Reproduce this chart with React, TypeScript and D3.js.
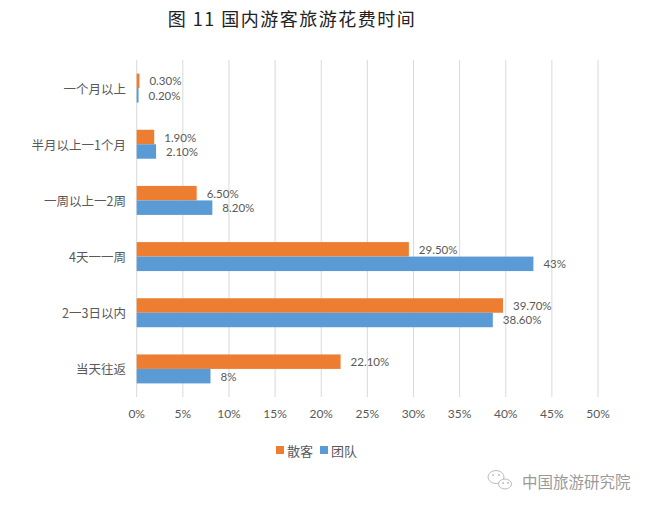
import { useEffect, useRef } from 'react';
import * as d3 from 'd3';

const categories = ['一个月以上', '半月以上一1个月', '一周以上一2周', '4天一一周', '2一3日以内', '当天往返'];
const seriesNames = ['散客', '团队'];
const sankeValues = [0.3, 1.9, 6.5, 29.5, 39.7, 22.1];
const tuanduiValues = [0.2, 2.1, 8.2, 43, 38.6, 8];
const sankeLabels = ['0.30%', '1.90%', '6.50%', '29.50%', '39.70%', '22.10%'];
const tuanduiLabels = ['0.20%', '2.10%', '8.20%', '43%', '38.60%', '8%'];
const xTicks = [0, 5, 10, 15, 20, 25, 30, 35, 40, 45, 50];

const colors = ['#ED7D31', '#5B9BD5'];
const textColor = '#595959';
const numFont = "Lato, 'Noto Sans CJK SC', sans-serif";
const cjkFont = "'Noto Sans CJK SC', sans-serif";

export default function App() {
  const svgRef = useRef<SVGSVGElement>(null);

  useEffect(() => {
    if (!svgRef.current) return;
    const svg = d3.select(svgRef.current);
    svg.selectAll('*').remove();

    const width = 650;
    const height = 509;

    svg.append('rect').attr('width', width).attr('height', height).attr('fill', '#fff');

    // Title
    svg.append('text')
      .attr('x', 292)
      .attr('y', 18)
      .attr('text-anchor', 'middle')
      .attr('dominant-baseline', 'central')
      .style('font-family', cjkFont)
      .style('font-size', '18px')
      .style('letter-spacing', '1.5px')
      .attr('fill', '#222')
      .text('图 11  国内游客旅游花费时间');

    const x = d3.scaleLinear().domain([0, 50]).range([136.7, 598]);
    const y = d3.scaleBand<string>()
      .domain(categories)
      .range([60, 397])
      .paddingInner(0.484)
      .paddingOuter(0.242);
    const sub = d3.scaleBand<string>()
      .domain(seriesNames)
      .range([0, y.bandwidth()]);

    const [y0, y1] = y.range();

    // grid lines
    svg.append('g')
      .selectAll('line')
      .data(xTicks)
      .join('line')
      .attr('x1', d => x(d))
      .attr('x2', d => x(d))
      .attr('y1', y0)
      .attr('y2', y1)
      .attr('stroke', '#d9d9d9')
      .attr('stroke-width', 1);

    // tick labels
    svg.append('g')
      .selectAll('text')
      .data(xTicks)
      .join('text')
      .attr('x', d => x(d))
      .attr('y', 413)
      .attr('text-anchor', 'middle')
      .attr('dominant-baseline', 'central')
      .style('font-family', numFont)
      .style('font-size', '12px')
      .attr('fill', textColor)
      .text(d => `${d}%`);

    // category labels
    svg.append('g')
      .selectAll('text')
      .data(categories)
      .join('text')
      .attr('x', 126)
      .attr('y', d => (y(d) as number) + y.bandwidth() / 2)
      .attr('text-anchor', 'end')
      .attr('dominant-baseline', 'central')
      .style('font-family', cjkFont)
      .style('font-size', '12.5px')
      .attr('fill', textColor)
      .text(d => d);

    const series = [
      { name: seriesNames[0], values: sankeValues, labels: sankeLabels, color: colors[0] },
      { name: seriesNames[1], values: tuanduiValues, labels: tuanduiLabels, color: colors[1] },
    ];

    series.forEach(s => {
      const g = svg.append('g');
      g.selectAll('rect')
        .data(s.values)
        .join('rect')
        .attr('x', x(0))
        .attr('y', (_, i) => (y(categories[i]) as number) + (sub(s.name) as number))
        .attr('width', d => x(d) - x(0))
        .attr('height', sub.bandwidth())
        .attr('fill', s.color);

      g.selectAll('text')
        .data(s.values)
        .join('text')
        .attr('x', d => x(d) + 10)
        .attr('y', (_, i) => (y(categories[i]) as number) + (sub(s.name) as number) + sub.bandwidth() / 2)
        .attr('dominant-baseline', 'central')
        .style('font-family', numFont)
        .style('font-size', '11.5px')
        .attr('fill', textColor)
        .text((_, i) => s.labels[i]);
    });

    // legend
    const legend = svg.append('g');
    const legendItems = [
      { name: seriesNames[0], color: colors[0], x: 276 },
      { name: seriesNames[1], color: colors[1], x: 320 },
    ];
    legendItems.forEach(item => {
      legend.append('rect')
        .attr('x', item.x)
        .attr('y', 446)
        .attr('width', 8)
        .attr('height', 8)
        .attr('fill', item.color);
      legend.append('text')
        .attr('x', item.x + 11)
        .attr('y', 450)
        .attr('dominant-baseline', 'central')
        .style('font-family', cjkFont)
        .style('font-size', '13px')
        .attr('fill', textColor)
        .text(item.name);
    });

    // watermark
    const wm = svg.append('g').attr('fill', '#fff').attr('stroke', '#bbb').attr('stroke-width', 1);
    wm.append('ellipse').attr('cx', 496).attr('cy', 477).attr('rx', 8).attr('ry', 6.5);
    wm.append('ellipse').attr('cx', 505).attr('cy', 484).attr('rx', 6.5).attr('ry', 5);
    [[493, 475], [499, 475], [503, 483], [508, 483]].forEach(([cx, cy]) => {
      svg.append('circle').attr('cx', cx).attr('cy', cy).attr('r', 0.9).attr('fill', '#bbb');
    });
    svg.append('text')
      .attr('x', 522)
      .attr('y', 481)
      .attr('dominant-baseline', 'central')
      .style('font-family', cjkFont)
      .style('font-size', '15.5px')
      .attr('fill', '#9a9a9a')
      .text('中国旅游研究院');
  }, []);

  return (
    <svg
      ref={svgRef}
      width={650}
      height={509}
      style={{ position: 'absolute', left: 0, top: 0, display: 'block' }}
    />
  );
}
